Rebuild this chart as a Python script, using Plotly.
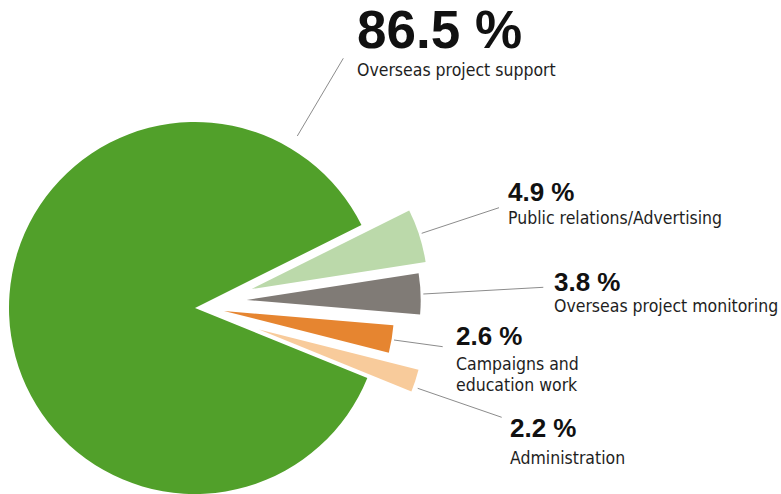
import plotly.graph_objects as go

# Expenditure breakdown, in percent
categories = [
    "Public relations/Advertising",
    "Overseas project monitoring",
    "Campaigns and<br>education work",
    "Administration",
    "Overseas project support",
]
shares = [4.9, 3.8, 2.6, 2.2, 86.5]
colors = ["#BBD9AA", "#807B76", "#E68530", "#F8CB9B", "#51A02A"]

W, H = 781, 494
START_ANGLE = 63.5  # degrees clockwise from 12 o'clock where the first wedge starts

# wedge apex (px) and radius (px); the small wedges are pushed out from the main one
wedge_geom = [
    (251.7, 289.0, 176),
    (246.7, 300.0, 174),
    (224.0, 311.0, 170),
    (259.0, 330.0, 165),
    (195.0, 308.0, 186),
]

# label block: left x, centre of the percentage, centre of first text line (px)
label_pos = [
    (506.5, 192.0, 217.8),
    (553.0, 281.7, 306.3),
    (454.5, 335.8, 364.3),
    (509.0, 427.7, 458.0),
    (355.5, 29.5, 69.8),
]
# leader lines (px): from wedge to label
leaders = [
    ((421.7, 233.3), (499.0, 207.7)),
    ((423.3, 294.0), (543.3, 287.3)),
    ((394.0, 340.0), (442.7, 346.7)),
    ((417.7, 388.3), (501.7, 417.3)),
    ((297.3, 136.0), (343.3, 58.3)),
]

LINE_GAP = 21
TEXT_FONT = "DejaVu Sans Condensed, Liberation Sans Narrow, sans-serif"
NUM_FONT = "Liberation Sans, Arial, sans-serif"


def px(x, y):
    return x / W, 1 - y / H


def domain_for(cx, cy, r):
    return dict(
        x=[max(0, (cx - r) / W), min(1, (cx + r) / W)],
        y=[max(0, 1 - (cy + r) / H), min(1, 1 - (cy - r) / H)],
    )


fig = go.Figure()
for i, (cx, cy, r) in enumerate(wedge_geom):
    slice_colors = [c if j == i else "rgba(0,0,0,0)" for j, c in enumerate(colors)]
    fig.add_trace(go.Pie(
        labels=categories,
        values=shares,
        sort=False,
        direction="clockwise",
        rotation=START_ANGLE,
        marker=dict(colors=slice_colors, line=dict(width=0)),
        textinfo="none",
        hoverinfo="skip",
        showlegend=False,
        domain=domain_for(cx, cy, r),
    ))

annotations = []
shapes = []
for i, (name, val) in enumerate(zip(categories, shares)):
    x, y_pct, y_text = label_pos[i]
    big = i == len(shares) - 1
    ax, ay = px(x, y_pct)
    annotations.append(dict(
        x=ax, y=ay, xref="paper", yref="paper", xanchor="left", yanchor="middle",
        text=f"<b>{val:.1f} %</b>", showarrow=False, borderpad=0,
        font=dict(family=NUM_FONT, size=53 if big else 26, color="#111111"),
    ))
    for k, line in enumerate(name.split("<br>")):
        lx, ly = px(x, y_text + k * LINE_GAP)
        annotations.append(dict(
            x=lx, y=ly, xref="paper", yref="paper", xanchor="left", yanchor="middle",
            text=line, showarrow=False, borderpad=0,
            font=dict(family=TEXT_FONT, size=17.5, color="#1e1e1e"),
        ))
    (x0, y0), (x1, y1) = leaders[i]
    p0, p1 = px(x0, y0), px(x1, y1)
    shapes.append(dict(
        type="line", xref="paper", yref="paper",
        x0=p0[0], y0=p0[1], x1=p1[0], y1=p1[1],
        line=dict(color="#8c8c8c", width=1),
    ))

fig.update_layout(
    width=W, height=H,
    margin=dict(l=0, r=0, t=0, b=0),
    paper_bgcolor="white", plot_bgcolor="white",
    annotations=annotations, shapes=shapes,
)

fig.write_html("out.html")
